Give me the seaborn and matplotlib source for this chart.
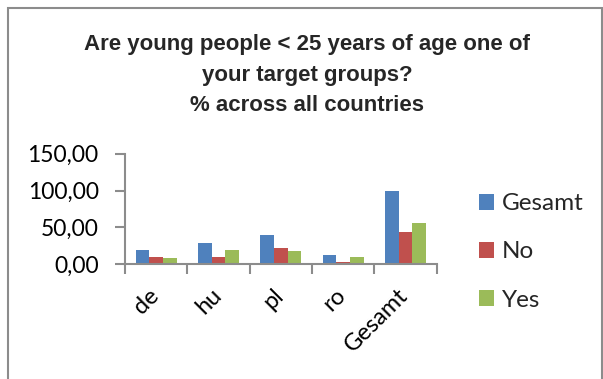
import matplotlib
matplotlib.use("Agg")
import matplotlib.pyplot as plt
import matplotlib.patches as mpatches
import matplotlib.transforms as mtransforms
from matplotlib.ticker import FuncFormatter, FixedLocator
import seaborn as sns
import pandas as pd

# Share of organisations (in %) by country and answer
countries = ["de", "hu", "pl", "ro", "Gesamt"]
series_names = ["Gesamt", "No", "Yes"]
gesamt_vals = [19.4, 29.2, 39.4, 12.5, 100.0]
no_vals = [10.0, 10.0, 21.7, 2.8, 44.4]
yes_vals = [8.6, 19.4, 18.1, 9.7, 55.6]
y_ticks = [0, 50, 100, 150]
colors = ["#4F81BD", "#C0504D", "#9BBB59"]

df = pd.DataFrame({
    "country": countries * 3,
    "answer": [s for s in series_names for _ in countries],
    "value": gesamt_vals + no_vals + yes_vals,
})

sns.set_theme(style="white")
plt.rcParams["font.family"] = ["Lato", "DejaVu Sans"]

W, H = 603, 379
fig = plt.figure(figsize=(W / 100, H / 100), dpi=100)
ax = fig.add_axes([125 / W, 1 - 264.3 / H, (436.7 - 125) / W, (264.3 - 153.7) / H])

sns.barplot(data=df, x="country", y="value", hue="answer", order=countries,
            hue_order=series_names, palette=colors, width=0.66, ax=ax,
            saturation=1, legend=False, edgecolor="none")

ax.set_xlim(-0.5, len(countries) - 0.5)
ax.set_ylim(0, 150)
ax.yaxis.set_major_locator(FixedLocator(y_ticks))
ax.yaxis.set_major_formatter(FuncFormatter(lambda v, p: f"{v:.2f}".replace(".", ",")))
ax.set_xlabel("")
ax.set_ylabel("")

axis_col = "#8c8c8c"
for side in ["top", "right"]:
    ax.spines[side].set_visible(False)
for side in ["left", "bottom"]:
    ax.spines[side].set_color(axis_col)
    ax.spines[side].set_linewidth(1.5)

# category boundary ticks on x, outward ticks on y
ax.set_xticks([i - 0.5 for i in range(len(countries) + 1)], minor=True)
ax.tick_params(axis="x", which="minor", length=7, width=1.5, color=axis_col, direction="out", bottom=True)
ax.tick_params(axis="x", which="major", length=0, pad=14.5)
ax.tick_params(axis="y", length=7, width=1.5, color=axis_col, direction="out", left=True,
               labelsize=16.5, labelcolor="black", pad=12)
ax.set_xticks(range(len(countries)))
ax.set_xticklabels(countries, rotation=45, ha="right", rotation_mode="anchor",
                   fontsize=17, color="black")
for lbl in ax.get_xticklabels():
    lbl.set_transform(lbl.get_transform() + mtransforms.ScaledTranslation(-8 / 100, 0, fig.dpi_scale_trans))

handles = [mpatches.Patch(facecolor=c, edgecolor="none", label=n) for c, n in zip(colors, series_names)]
leg = fig.legend(handles=handles, loc="center left", bbox_to_anchor=(479 / W, 1 - 252 / H),
                 frameon=False, fontsize=17.5, handlelength=0.62, handleheight=0.62,
                 handletextpad=0.32, labelspacing=1.12, borderaxespad=0, borderpad=0)

fig.text(307 / W, 1 - 75 / H,
         "Are young people < 25 years of age one of\nyour target groups?\n% across all countries",
         ha="center", va="center", fontsize=16, fontweight="bold",
         family="Liberation Sans", linespacing=1.62)

# outer chart frame
frame = mpatches.Rectangle((8 / W, -0.05), (601.5 - 8) / W, 1.05 - 8 / H,
                           transform=fig.transFigure, fill=False,
                           edgecolor="#8c8c8c", linewidth=1.5)
fig.add_artist(frame)

fig.savefig("out.png", dpi=100)
